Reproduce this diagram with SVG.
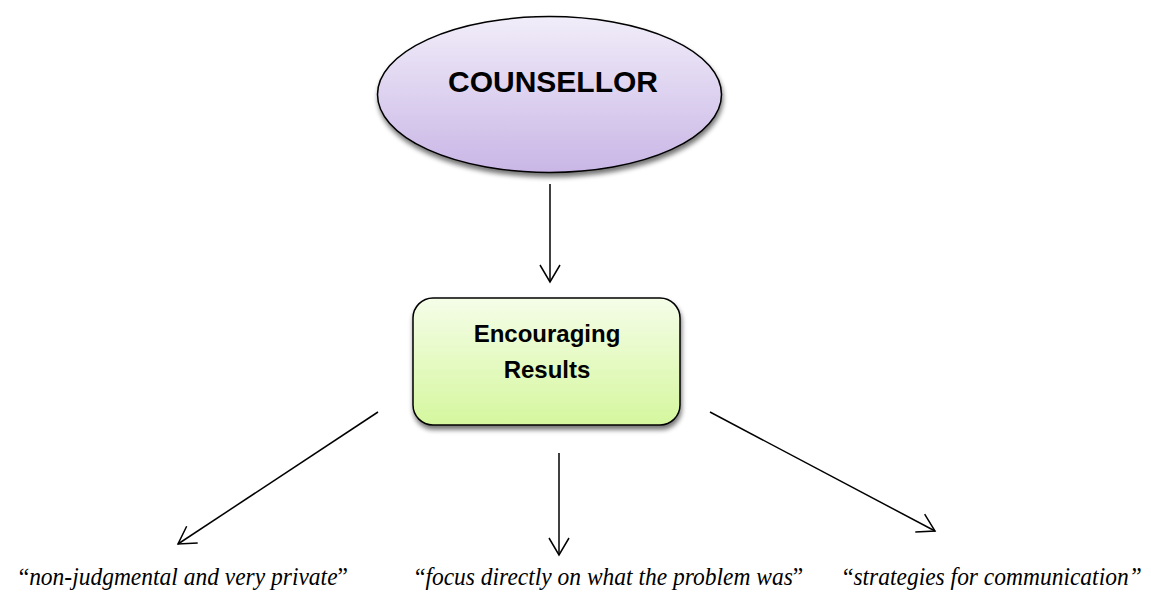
<svg xmlns="http://www.w3.org/2000/svg" width="1151" height="596" viewBox="0 0 1151 596">
  <defs>
    <linearGradient id="gPurple" x1="0" y1="0" x2="0" y2="1">
      <stop offset="0" stop-color="#f1edf9"/>
      <stop offset="1" stop-color="#c9b6e6"/>
    </linearGradient>
    <linearGradient id="gGreen" x1="0" y1="0" x2="0" y2="1">
      <stop offset="0" stop-color="#f5fde8"/>
      <stop offset="1" stop-color="#d5f79e"/>
    </linearGradient>
    <filter id="shadow" x="-10%" y="-10%" width="125%" height="130%">
      <feGaussianBlur in="SourceAlpha" stdDeviation="2.5"/>
      <feOffset dx="1" dy="4" result="b"/>
      <feComponentTransfer><feFuncA type="linear" slope="0.55"/></feComponentTransfer>
      <feMerge><feMergeNode/><feMergeNode in="SourceGraphic"/></feMerge>
    </filter>
    <marker id="arrow" markerUnits="userSpaceOnUse" markerWidth="24" markerHeight="24" viewBox="-20 -12 24 24" refX="0" refY="0" orient="auto">
      <path d="M-17,-10 L0,0 L-17,10" fill="none" stroke="#000" stroke-width="1.5"/>
    </marker>
  </defs>
  <style>
    .node-text { font-family: "Liberation Sans", Arial, sans-serif; font-weight: bold; fill: #000; text-anchor: middle; }
    .quote { font-family: "Liberation Serif", "Times New Roman", serif; font-style: italic; font-size: 23.5px; fill: #000; }
    .up { font-style: normal; }
    .conn { stroke: #000; stroke-width: 1.5; fill: none; marker-end: url(#arrow); }
  </style>
  <rect x="0" y="0" width="1151" height="596" fill="#ffffff"/>

  <g id="counsellor">
    <ellipse cx="549.5" cy="94.5" rx="172" ry="78" fill="url(#gPurple)" stroke="#000" stroke-width="1.5" filter="url(#shadow)"/>
    <text class="node-text" x="553" y="92" font-size="30">COUNSELLOR</text>
  </g>

  <g id="encouraging-results">
    <rect x="413" y="298" width="267" height="127" rx="20" ry="20" fill="url(#gGreen)" stroke="#000" stroke-width="1.5" filter="url(#shadow)"/>
    <text class="node-text" x="547" y="342" font-size="24">Encouraging</text>
    <text class="node-text" x="547" y="378" font-size="24">Results</text>
  </g>

  <g id="connectors">
    <line class="conn" x1="550" y1="184" x2="550" y2="282"/>
    <line class="conn" x1="378" y1="412" x2="178" y2="544"/>
    <line class="conn" x1="559" y1="453" x2="559" y2="555"/>
    <line class="conn" x1="710" y1="412" x2="935" y2="531"/>
  </g>

  <g id="quote-left">
    <text class="quote" x="348" y="585" text-anchor="end" transform="matrix(1,0,0,1.08,0,-46.8)"><tspan class="up">“</tspan>non-judgmental and very private<tspan class="up">”</tspan></text>
  </g>
  <g id="quote-middle">
    <text class="quote" x="415" y="585" transform="matrix(1,0,0,1.08,0,-46.8)"><tspan class="up">“</tspan>focus directly on what the problem was<tspan class="up">”</tspan></text>
  </g>
  <g id="quote-right">
    <text class="quote" x="843" y="585" transform="matrix(1,0,0,1.08,0,-46.8)"><tspan class="up">“</tspan>strategies for communication”</text>
  </g>
</svg>
